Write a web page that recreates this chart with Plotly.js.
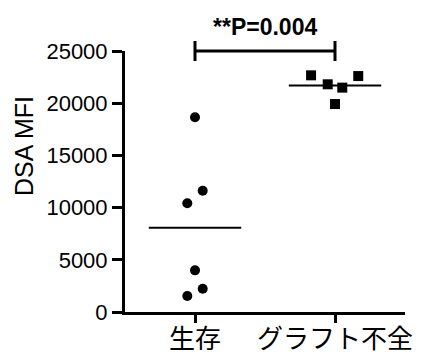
<!DOCTYPE html>
<html>
<head>
<meta charset="utf-8">
<script src="https://cdn.plot.ly/plotly-3.0.1.min.js"></script>
<style>html,body{margin:0;padding:0;background:#fff;}#chart{width:423px;height:356px;}</style>
</head>
<body>
<div id="chart"></div>
<script>
// ---- data ----
const categories = ["生存", "グラフト不全"];
const survivalValues = [18650, 11620, 10410, 3990, 2230, 1530];
const failureValues = [22670, 21810, 21490, 22600, 19920];
const yTickValues = [0, 5000, 10000, 15000, 20000, 25000];
const yTickLabels = ["0", "5000", "10000", "15000", "20000", "25000"];
const yTitle = "DSA MFI";
const pLabel = "**P=0.004";

// ---- point spread (scatter-dot layout) ----
const survivalSpread = [0, 0.055, -0.055, 0, 0.055, -0.055];
const failureSpread = [-0.171, -0.052, 0.052, 0.166, 0];

const mean = a => a.reduce((s, v) => s + v, 0) / a.length;
const xr = [0.5, 2.5];
const yr = [0, 25000];
const halfW = 0.33;

const traces = [
  {
    type: "scatter", mode: "markers",
    x: survivalValues.map((v, i) => 1 + survivalSpread[i]),
    y: survivalValues,
    marker: {symbol: "circle", size: 10, color: "#000"},
    cliponaxis: false, hoverinfo: "none"
  },
  {
    type: "scatter", mode: "markers",
    x: failureValues.map((v, i) => 2 + failureSpread[i]),
    y: failureValues,
    marker: {symbol: "square", size: 10, color: "#000"},
    cliponaxis: false, hoverinfo: "none"
  },
  {
    type: "scatter", mode: "lines",
    x: [1 - halfW, 1 + halfW],
    y: [mean(survivalValues), mean(survivalValues)],
    line: {color: "#000", width: 2}, hoverinfo: "none"
  },
  {
    type: "scatter", mode: "lines",
    x: [2 - halfW, 2 + halfW],
    y: [mean(failureValues), mean(failureValues)],
    line: {color: "#000", width: 2}, hoverinfo: "none"
  }
];

const px = v => (v - xr[0]) / (xr[1] - xr[0]);
const py = v => (v - yr[0]) / (yr[1] - yr[0]);
const plotH = 356 - 51 - 44;
const tickH = 10 / plotH;
const bx0 = px(1), bx1 = px(2), by = py(25000);

const layout = {
  width: 423, height: 356,
  margin: {l: 125, r: 18, t: 51, b: 44},
  paper_bgcolor: "#fff", plot_bgcolor: "#fff",
  showlegend: false,
  font: {family: "Arial, 'Liberation Sans', 'Noto Sans CJK JP', sans-serif", color: "#000"},
  xaxis: {
    range: xr, tickmode: "array", tickvals: [1, 2], ticktext: categories,
    showgrid: false, zeroline: false, showline: true, linewidth: 3, linecolor: "#000",
    ticks: "outside", ticklen: 8, tickwidth: 3, tickcolor: "#000",
    ticklabelstandoff: -6,
    tickfont: {size: 26, family: "'Noto Sans CJK JP', sans-serif", color: "#000"},
    fixedrange: true
  },
  yaxis: {
    range: yr, tickmode: "array", tickvals: yTickValues, ticktext: yTickLabels,
    showgrid: false, zeroline: false, showline: true, linewidth: 3, linecolor: "#000",
    ticks: "outside", ticklen: 10, tickwidth: 3, tickcolor: "#000",
    tickfont: {size: 22, family: "Arial, 'Liberation Sans', sans-serif", color: "#000"},
    fixedrange: true
  },
  shapes: [
    {type: "line", xref: "paper", yref: "paper", x0: bx0, x1: bx1, y0: by, y1: by, line: {color: "#000", width: 3}},
    {type: "line", xref: "paper", yref: "paper", x0: bx0, x1: bx0, y0: by - tickH, y1: by + tickH, line: {color: "#000", width: 3}},
    {type: "line", xref: "paper", yref: "paper", x0: bx1, x1: bx1, y0: by - tickH, y1: by + tickH, line: {color: "#000", width: 3}}
  ],
  annotations: [
    {text: "<b>" + pLabel + "</b>", xref: "x", yref: "paper", x: 1.5, y: (312 - 27) / plotH,
     xanchor: "center", yanchor: "middle", showarrow: false,
     font: {size: 23, family: "Arial, 'Liberation Sans', sans-serif", color: "#000"}},
    {text: yTitle, xref: "paper", yref: "paper", x: (24 - 125) / 280, y: (312 - 146) / plotH,
     xanchor: "center", yanchor: "middle", textangle: -90, showarrow: false,
     font: {size: 25, family: "Arial, 'Liberation Sans', sans-serif", color: "#000"}}
  ]
};

Plotly.newPlot("chart", traces, layout, {staticPlot: true, displayModeBar: false});
</script>
</body>
</html>
